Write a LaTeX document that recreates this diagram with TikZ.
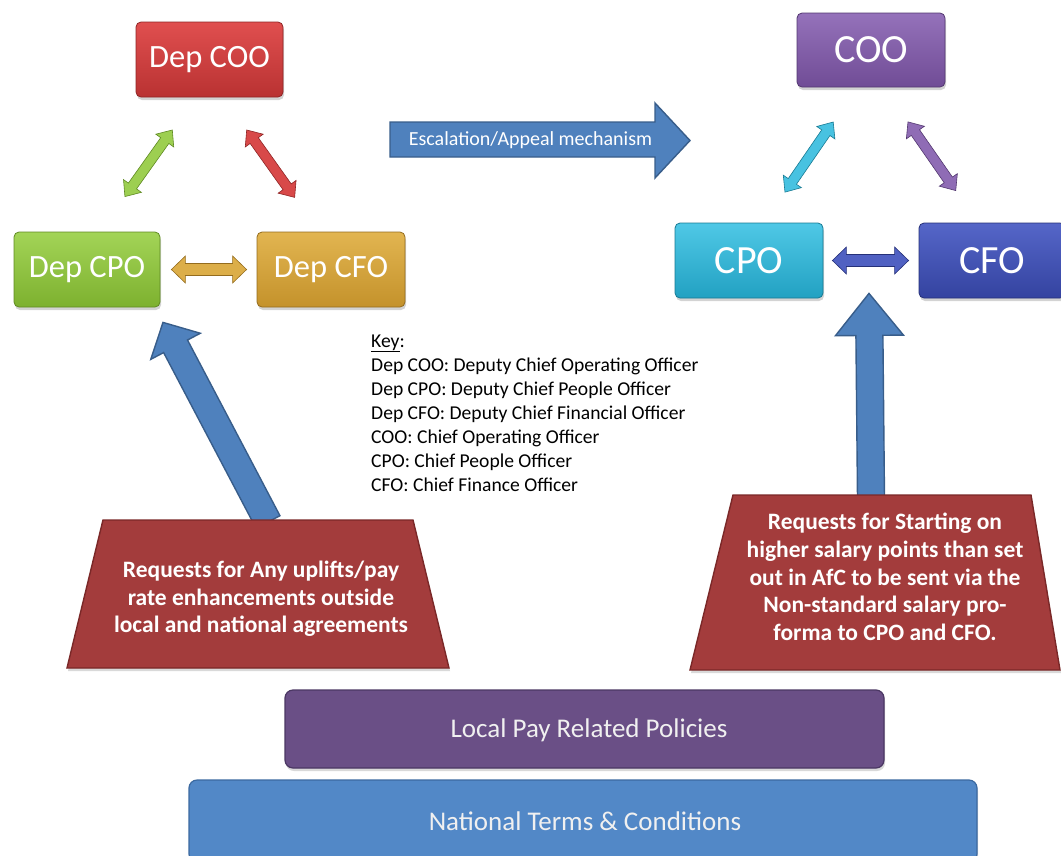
\documentclass[tikz,border=0pt]{standalone}
\usepackage{fontspec}
\setmainfont{Carlito}
\usetikzlibrary{calc,shadows}
\definecolor{redT}{HTML}{E04F4F}\definecolor{redB}{HTML}{B93232}\definecolor{redD}{HTML}{8F2525}
\definecolor{grnT}{HTML}{A3D457}\definecolor{grnB}{HTML}{7DB12F}\definecolor{grnD}{HTML}{5F8A22}
\definecolor{gldT}{HTML}{E2B551}\definecolor{gldB}{HTML}{C4922B}\definecolor{gldD}{HTML}{946C1E}
\definecolor{purT}{HTML}{9572BA}\definecolor{purB}{HTML}{704C96}\definecolor{purD}{HTML}{533870}
\definecolor{cyaT}{HTML}{4FC8E6}\definecolor{cyaB}{HTML}{22A1C2}\definecolor{cyaD}{HTML}{187A93}
\definecolor{bluT}{HTML}{5566C8}\definecolor{bluB}{HTML}{3443A0}\definecolor{bluD}{HTML}{263178}
\definecolor{steel}{HTML}{4F81BD}\definecolor{steelD}{HTML}{385D8A}
\definecolor{brick}{HTML}{A33C3C}\definecolor{brickD}{HTML}{7A2828}
\definecolor{plum}{HTML}{6A4F86}\definecolor{plumD}{HTML}{4B3763}
\definecolor{natb}{HTML}{5288C7}\definecolor{natbD}{HTML}{3B69A0}
\newcommand\blockarrow[6]{%
  \coordinate (bah) at ($(#3)!#6!(#2)$);
  \filldraw[#1] ($(#2)!#4!90:(#3)$) -- ($(bah)!#4!90:(#3)$) -- ($(bah)!#5!90:(#3)$) -- (#3)
    -- ($(bah)!#5!-90:(#3)$) -- ($(bah)!#4!-90:(#3)$) -- ($(#2)!#4!-90:(#3)$) -- cycle;
}
\newcommand\dblarrow[8]{%
  \coordinate (daA) at ($(#2)!#4!(#3)$);
  \coordinate (daB) at ($(#3)!#5!(#2)$);
  \coordinate (dhA) at ($(daA)!#8!(daB)$);
  \coordinate (dhB) at ($(daB)!#8!(daA)$);
  \filldraw[#1] (daA) -- ($(dhA)!#7!90:(daB)$) -- ($(dhA)!#6!90:(daB)$) -- ($(dhB)!#6!90:(daB)$)
    -- ($(dhB)!#7!90:(daB)$) -- (daB) -- ($(dhB)!#7!-90:(daB)$) -- ($(dhB)!#6!-90:(daB)$)
    -- ($(dhA)!#6!-90:(daB)$) -- ($(dhA)!#7!-90:(daB)$) -- cycle;
}
\tikzset{
  box/.style={rounded corners=5pt, minimum width=147pt, minimum height=75pt, inner sep=0pt,
    text=white, font=\fontsize{32.5}{38}\selectfont, line width=0.8pt,
    drop shadow={opacity=0.35, shadow xshift=1pt, shadow yshift=-3pt}},
  bigbox/.style={box, font=\fontsize{40}{46}\selectfont},
  dbl/.style={line width=0.6pt},
  steelarrow/.style={fill=steel, draw=steelD, line width=1.4pt, line join=miter},
  trap/.style={fill=brick, draw=brickD, line width=1.4pt,
    drop shadow={opacity=0.3, shadow xshift=1pt, shadow yshift=-3pt}},
  traptext/.style={text=white, align=center, font=\bfseries\fontsize{23.5}{27.6}\selectfont},
  keyline/.style={anchor=base west, inner sep=0pt, font=\fontsize{19.6}{22}\selectfont},
  bar/.style={rounded corners=8pt, line width=1.2pt,
    drop shadow={opacity=0.3, shadow xshift=1pt, shadow yshift=-3pt}},
  bartext/.style={text=white!94!black, font=\fontsize{27}{30}\selectfont},
}
\begin{document}
\begin{tikzpicture}[x=1pt,y=-1pt]
\useasboundingbox (0,0) rectangle (1061,855);
% boxes left
\node[box, top color=redT, bottom color=redB, draw=redD] (depcoo) at (209.5,59.5) {Dep COO};
\node[box, minimum width=146pt, top color=grnT, bottom color=grnB, draw=grnD] (depcpo) at (87,269.5) {Dep CPO};
\node[box, minimum width=148pt, top color=gldT, bottom color=gldB, draw=gldD] (depcfo) at (331,269.5) {Dep CFO};
% boxes right
\node[bigbox, minimum width=148pt, minimum height=74pt, top color=purT, bottom color=purB, draw=purD] (coo) at (871,50) {COO};
\node[bigbox, minimum width=148pt, top color=cyaT, bottom color=cyaB, draw=cyaD] (cpo) at (749,260.5) {CPO};
\node[bigbox, minimum width=146pt, top color=bluT, bottom color=bluB, draw=bluD] (cfo) at (992,260.5) {CFO};
% double arrows left
\coordinate (g1) at ($(depcpo.north)+(13,0)$);
\coordinate (g2) at ($(depcoo.south)+(-14,0)$);
\dblarrow{dbl, fill=grnT!85!grnB, draw=grnD}{g1}{g2}{43pt}{40pt}{5pt}{11pt}{13pt}
\coordinate (r1) at ($(depcoo.south)+(14,0)$);
\coordinate (r2) at ($(depcfo.north)+(-12,0)$);
\dblarrow{dbl, fill=redT!80!redB, draw=redD}{r1}{r2}{40pt}{42pt}{5pt}{11pt}{13pt}
\dblarrow{dbl, fill=gldT!80!gldB, draw=gldD}{depcpo.east}{depcfo.west}{11pt}{10pt}{6pt}{13.5pt}{14pt}
% double arrows right
\coordinate (c1) at ($(cpo.north)+(15,0)$);
\coordinate (c2) at ($(coo.south)+(-14,0)$);
\dblarrow{dbl, fill=cyaT!85!cyaB, draw=cyaD}{c1}{c2}{37pt}{42pt}{5pt}{11pt}{13pt}
\coordinate (p1) at ($(coo.south)+(13,0)$);
\coordinate (p2) at ($(cfo.north)+(-14,0)$);
\dblarrow{dbl, fill=purT!85!purB, draw=purD}{p1}{p2}{42pt}{39pt}{5pt}{11pt}{13pt}
\dblarrow{dbl, fill=bluT!85!bluB, draw=bluD}{cpo.east}{cfo.west}{9pt}{10pt}{6pt}{13.5pt}{14pt}
% escalation arrow
\filldraw[steelarrow] (390,122) -- (655,122) -- (655,103) -- (690,140.5) -- (655,178) -- (655,157) -- (390,157) -- cycle;
\node[text=white, font=\fontsize{20}{24}\selectfont, inner sep=0pt] (esc) at (530.5,140.5) {Escalation/Appeal mechanism};
% request arrows
\coordinate (baseA) at (268,522);
\coordinate (tipA) at ($(depcpo.south)+(76,15)$);
\blockarrow{steelarrow}{baseA}{tipA}{13.5pt}{28pt}{27pt}
\coordinate (baseB) at (871,498);
\coordinate (tipB) at ($(cpo.south east)!0.5!(cfo.south west)+(-2,-5)$);
\blockarrow{steelarrow}{baseB}{tipB}{13.5pt}{34pt}{42pt}
% trapezoids
\filldraw[trap] (103,520) -- (413,520) -- (449,668) -- (67,668) -- cycle;
\node[traptext] (reqA) at (261,599) {Requests for Any uplifts/pay\\rate enhancements outside\\local and national agreements};
\filldraw[trap] (733,495) -- (1031,495) -- (1060,670) -- (690,670) -- cycle;
\node[traptext] (reqB) at (885,577) {Requests for Starting on\\higher salary points than set\\out in AfC to be sent via the\\Non-standard salary pro-\\forma to CPO and CFO.};
% key
\node[keyline] (k0) at (371,347) {\underline{Key}:};
\node[keyline] (k1) at (371,371) {Dep COO: Deputy Chief Operating Officer};
\node[keyline] (k2) at (371,395) {Dep CPO: Deputy Chief People Officer};
\node[keyline] (k3) at (371,419) {Dep CFO: Deputy Chief Financial Officer};
\node[keyline] (k4) at (371,443) {COO: Chief Operating Officer};
\node[keyline] (k5) at (371,467) {CPO: Chief People Officer};
\node[keyline] (k6) at (371,491) {CFO: Chief Finance Officer};
% bars
\filldraw[bar, fill=plum, draw=plumD] (285,690) rectangle (884,768);
\node[bartext] (local) at (589,730) {Local Pay Related Policies};
\filldraw[bar, fill=natb, draw=natbD] (189,780) rectangle (977,862);
\node[bartext] (national) at (585,821) {National Terms \& Conditions};
\end{tikzpicture}
\end{document}
